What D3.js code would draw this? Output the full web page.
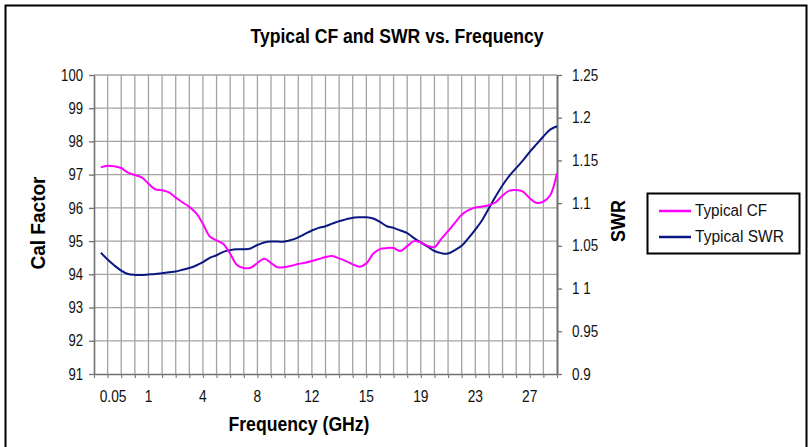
<!DOCTYPE html>
<html>
<head>
<meta charset="utf-8">
<script src="https://cdn.jsdelivr.net/npm/d3@7"></script>
<style>
  html, body { margin: 0; padding: 0; background: #fff; }
  svg { display: block; font-family: "Liberation Sans", Arial, Helvetica, sans-serif; }
</style>
</head>
<body>
<svg id="chart" width="811" height="447"></svg>
<script>
// Measured curves, sampled every half category step from category 0.5 to 34
const sampleStart = 0.5;
const sampleStep = 0.5;

const cfValues = [
  97.22, 97.27, 97.25, 97.20, 97.06, 96.99, 96.92, 96.73, 96.56, 96.53,
  96.47, 96.31, 96.17, 96.03, 95.84, 95.52, 95.14, 95.02, 94.91, 94.62,
  94.28, 94.19, 94.20, 94.34, 94.47, 94.34, 94.21, 94.22, 94.26, 94.31,
  94.35, 94.40, 94.46, 94.52, 94.55, 94.48, 94.40, 94.30, 94.23, 94.33,
  94.62, 94.76, 94.79, 94.79, 94.70, 94.85, 95.00, 94.96, 94.86, 94.82,
  95.07, 95.30, 95.55, 95.79, 95.93, 96.01, 96.04, 96.08, 96.17, 96.37,
  96.52, 96.54, 96.49, 96.29, 96.15, 96.19, 96.38, 97.05
];

const swrValues = [
  1.042, 1.034, 1.027, 1.021, 1.017, 1.016, 1.016, 1.0165, 1.017, 1.018,
  1.019, 1.020, 1.022, 1.024, 1.027, 1.031, 1.036, 1.039, 1.043, 1.045,
  1.046, 1.046, 1.047, 1.051, 1.054, 1.055, 1.055, 1.055, 1.057, 1.060,
  1.064, 1.068, 1.071, 1.073, 1.076, 1.079, 1.081, 1.083, 1.0835, 1.0835,
  1.082, 1.078, 1.073, 1.071, 1.068, 1.065, 1.059, 1.054, 1.049, 1.044,
  1.0415, 1.041, 1.045, 1.050, 1.059, 1.069, 1.080, 1.094, 1.108, 1.121,
  1.132, 1.141, 1.150, 1.160, 1.169, 1.178, 1.186, 1.190
];

// Frequency axis: category slots, with a label on some of them
const categoryCount = 34;
const xTickLabels   = ["0.05", "1", "4", "8", "12", "15", "19", "23", "27"];
const xTickCategory = [1.4, 4, 8, 12, 16, 20, 24, 28, 32];

const cfTicks = [91, 92, 93, 94, 95, 96, 97, 98, 99, 100];
const swrTicks = [0.9, 0.95, 1, 1.05, 1.1, 1.15, 1.2, 1.25];
const swrTickLabels = ["0.9", "0.95", "1 1", "1.05", "1.1", "1.15", "1.2", "1.25"];

const seriesNames = ["Typical CF", "Typical SWR"];
const seriesColors = ["#ff00ff", "#0b1780"];

// ---- layout ----
const svg = d3.select("#chart");
const plot = { left: 94, right: 557, top: 75, bottom: 374 };

const x = d3.scaleLinear().domain([0, categoryCount]).range([plot.left, plot.right]);
const yCF = d3.scaleLinear().domain([91, 100]).range([plot.bottom, plot.top]);
const ySWR = d3.scaleLinear().domain([0.9, 1.25]).range([plot.bottom, plot.top]);

// Narrow the lettering (condensed face look): shrink each text run horizontally
function condense(sel, ratio) {
  sel.each(function () {
    const w = this.getComputedTextLength();
    d3.select(this).attr("textLength", w * ratio).attr("lengthAdjust", "spacingAndGlyphs");
  });
}
function fitWidth(sel, width) {
  sel.attr("textLength", width).attr("lengthAdjust", "spacingAndGlyphs");
}

// outer frame
svg.append("rect")
  .attr("x", 5.5).attr("y", 5.5).attr("width", 801).attr("height", 460)
  .attr("fill", "none").attr("stroke", "#000").attr("stroke-width", 2);

// title
svg.append("text")
  .attr("x", 397).attr("y", 43)
  .attr("text-anchor", "middle")
  .attr("font-size", 20).attr("font-weight", "bold")
  .text("Typical CF and SWR vs. Frequency")
  .call(fitWidth, 293);

// grid
const grid = svg.append("g").attr("stroke", "#a3a3a3").attr("stroke-width", 1.3);
grid.selectAll("line.v").data(d3.range(1, categoryCount)).join("line")
  .attr("class", "v")
  .attr("x1", d => x(d)).attr("x2", d => x(d))
  .attr("y1", plot.top).attr("y2", plot.bottom);
grid.selectAll("line.h").data(cfTicks.slice(1)).join("line")
  .attr("class", "h")
  .attr("x1", plot.left).attr("x2", plot.right)
  .attr("y1", d => yCF(d)).attr("y2", d => yCF(d));

// left axis (Cal Factor)
const leftAxis = svg.append("g")
  .attr("transform", `translate(${plot.left},0)`)
  .call(d3.axisLeft(yCF).tickValues(cfTicks).tickSize(5).tickSizeOuter(0).tickPadding(6)
    .tickFormat(d3.format("d")))
  .attr("font-family", null).attr("font-size", null);
leftAxis.select(".domain").attr("stroke", "#707070").attr("stroke-width", 1.6);
leftAxis.selectAll(".tick line").attr("stroke", "#707070").attr("stroke-width", 1.3);
leftAxis.selectAll(".tick text").attr("font-size", 16).attr("fill", "#111").call(condense, 0.82);

// right axis (SWR)
const rightAxis = svg.append("g")
  .attr("transform", `translate(${plot.right},0)`)
  .call(d3.axisRight(ySWR).tickValues(swrTicks).tickSize(5).tickSizeOuter(0).tickPadding(10)
    .tickFormat((d, i) => swrTickLabels[i]))
  .attr("font-family", null).attr("font-size", null);
rightAxis.select(".domain").attr("stroke", "#707070").attr("stroke-width", 2);
rightAxis.selectAll(".tick line").attr("stroke", "#707070").attr("stroke-width", 1.3);
rightAxis.selectAll(".tick text").attr("font-size", 16).attr("fill", "#111").call(condense, 0.84);

// bottom axis: a tick at each category, labels on selected slots
const bottomAxis = svg.append("g")
  .attr("transform", `translate(0,${plot.bottom})`)
  .call(d3.axisBottom(x).tickValues(d3.range(0, categoryCount + 1)).tickSize(4).tickSizeOuter(0)
    .tickFormat(""));
bottomAxis.select(".domain").attr("stroke", "#707070").attr("stroke-width", 1.6);
bottomAxis.selectAll(".tick line").attr("stroke", "#808080").attr("stroke-width", 1.2);

svg.append("g").selectAll("text").data(xTickLabels).join("text")
  .attr("x", (d, i) => x(xTickCategory[i]))
  .attr("y", 402)
  .attr("text-anchor", "middle")
  .attr("font-size", 16).attr("fill", "#111")
  .text(d => d)
  .call(condense, 0.86);

// axis titles
svg.append("text")
  .attr("transform", "translate(45,223) rotate(-90)")
  .attr("text-anchor", "middle")
  .attr("font-size", 20).attr("font-weight", "bold")
  .text("Cal Factor")
  .call(fitWidth, 93);
svg.append("text")
  .attr("transform", "translate(625,221) rotate(-90)")
  .attr("text-anchor", "middle")
  .attr("font-size", 20).attr("font-weight", "bold")
  .text("SWR")
  .call(fitWidth, 42);
svg.append("text")
  .attr("x", 299).attr("y", 431)
  .attr("text-anchor", "middle")
  .attr("font-size", 20).attr("font-weight", "bold")
  .text("Frequency (GHz)")
  .call(fitWidth, 141);

// curves
const samplePos = i => sampleStart + i * sampleStep;
const cfLine = d3.line()
  .x((d, i) => x(samplePos(i))).y(d => yCF(d))
  .curve(d3.curveCatmullRom.alpha(0.5));
const swrLine = d3.line()
  .x((d, i) => x(samplePos(i))).y(d => ySWR(d))
  .curve(d3.curveCatmullRom.alpha(0.5));

svg.append("path").datum(swrValues)
  .attr("d", swrLine).attr("fill", "none")
  .attr("stroke", seriesColors[1]).attr("stroke-width", 2);
svg.append("path").datum(cfValues)
  .attr("d", cfLine).attr("fill", "none")
  .attr("stroke", seriesColors[0]).attr("stroke-width", 2);

// legend
const legend = svg.append("g");
legend.append("rect")
  .attr("x", 647.5).attr("y", 193.5).attr("width", 152).attr("height", 60)
  .attr("fill", "#fff").attr("stroke", "#000").attr("stroke-width", 2);
const legendTextWidths = [72, 89];
seriesNames.forEach((name, i) => {
  const ly = 211 + i * 26;
  legend.append("line")
    .attr("x1", 659).attr("x2", 691).attr("y1", ly).attr("y2", ly)
    .attr("stroke", seriesColors[i]).attr("stroke-width", 2.5);
  legend.append("text")
    .attr("x", 695).attr("y", ly + 5)
    .attr("font-size", 16).attr("fill", "#111")
    .text(name)
    .call(fitWidth, legendTextWidths[i]);
});
</script>
</body>
</html>
